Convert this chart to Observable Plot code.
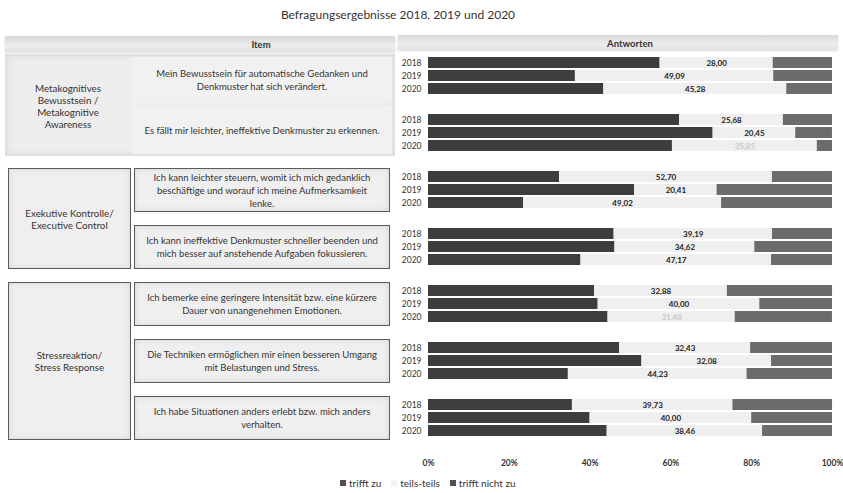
<!DOCTYPE html>
<html>
<head>
<meta charset="utf-8">
<script src="https://cdn.jsdelivr.net/npm/d3@7"></script>
<script src="https://cdn.jsdelivr.net/npm/@observablehq/plot@0.6"></script>
<style>
  html, body { margin: 0; padding: 0; background: #fff; }
  #wrap { position: relative; width: 843px; height: 493px; overflow: hidden;
          font-family: Lato, "Open Sans", sans-serif; color: #333; }
  #title { position: absolute; left: 0; top: 7px; width: 796px; text-align: center;
           font-size: 12px; color: #333; }
  .band { position: absolute; background: linear-gradient(#d9d9d9, #ececec 60%, #e2e2e2);
          box-shadow: 0 1px 2px rgba(0,0,0,0.15); }
  .hdr { position: absolute; font-weight: bold; font-size: 9.5px; color: #333;
         transform: translate(-50%, -50%); white-space: nowrap; }
  .cell { position: absolute; box-sizing: border-box; display: flex; align-items: center;
          justify-content: center; text-align: center; white-space: pre-line;
          font-size: 9.5px; line-height: 13px; color: #333; }
  .boxed { border: 1px solid #5a5a5a; background: #efefef;
           box-shadow: inset 0 0 6px rgba(0,0,0,0.10); }
  .soft { background: #ededed; }
  .catText { font-size: 9.8px; line-height: 12px; }
  #legend { position: absolute; left: 340px; top: 477px; display: flex; font-size: 10px; color: #333; }
  #legend span.item { display: flex; align-items: center; margin-right: 10px; }
  #legend i { display: inline-block; width: 6px; height: 6px; margin-right: 3px; }
  #chart { position: absolute; left: 0; top: 28px; }
</style>
</head>
<body>
<div id="wrap">
  <div id="title"></div>
</div>
<script>
// Survey results: share of answers per item and survey year
const title = "Befragungsergebnisse 2018, 2019 und 2020";
const years = ["2018", "2019", "2020"];
const responses = ["trifft zu", "teils-teils", "trifft nicht zu"];
const responseColors = ["#3d3d3d", "#efefef", "#6b6b6b"];
const xTicks = [0, 20, 40, 60, 80, 100];

const categories = [
  "Metakognitives\nBewusstsein /\nMetakognitive\nAwareness",
  "Exekutive Kontrolle/\nExecutive Control",
  "Stressreaktion/\nStress Response"
];
const items = [
  "Mein Bewusstsein für automatische Gedanken und\nDenkmuster hat sich verändert.",
  "Es fällt mir leichter, ineffektive Denkmuster zu erkennen.",
  "Ich kann leichter steuern, womit ich mich gedanklich\nbeschäftige und worauf ich meine Aufmerksamkeit\nlenke.",
  "Ich kann ineffektive Denkmuster schneller beenden und\nmich besser auf anstehende Aufgaben fokussieren.",
  "Ich bemerke eine geringere Intensität bzw. eine kürzere\nDauer von unangenehmen Emotionen.",
  "Die Techniken ermöglichen mir einen besseren Umgang\nmit Belastungen und Stress.",
  "Ich habe Situationen anders erlebt bzw. mich anders\nverhalten."
];
const itemCategory = [0, 0, 1, 1, 2, 2, 2];

// Percentages per item (rows) and year 2018, 2019, 2020 (columns)
const trifftZu = [
  [57.33, 36.36, 43.40],
  [62.16, 70.45, 60.38],
  [32.43, 51.02, 23.53],
  [45.95, 46.15, 37.74],
  [41.10, 42.00, 44.44],
  [47.30, 52.83, 34.62],
  [35.62, 40.00, 44.23]
];
const teilsTeils = [
  [28.00, 49.09, 45.28],
  [25.68, 20.45, 35.85],
  [52.70, 20.41, 49.02],
  [39.19, 34.62, 47.17],
  [32.88, 40.00, 31.48],
  [32.43, 32.08, 44.23],
  [39.73, 40.00, 38.46]
];
const trifftNichtZu = [
  [14.67, 14.55, 11.32],
  [12.16,  9.09,  3.77],
  [14.86, 28.57, 27.45],
  [14.86, 19.23, 15.09],
  [26.03, 18.00, 24.07],
  [20.27, 15.09, 21.15],
  [24.66, 20.00, 17.31]
];
// value labels that are printed only faintly (item index, year)
const faintLabels = [[1, "2020"], [4, "2020"]];

const series = [trifftZu, teilsTeils, trifftNichtZu];
const rows = [];
const labels = [];
items.forEach((_, i) => years.forEach((year, j) => {
  series.forEach((s, k) => rows.push({item: i, year, response: responses[k], value: s[i][j]}));
  labels.push({
    item: i, year, value: teilsTeils[i][j],
    mid: trifftZu[i][j] + teilsTeils[i][j] / 2,
    faint: faintLabels.some(([fi, fy]) => fi === i && fy === year)
  });
}));
const fmt = v => v.toFixed(2).replace(".", ",");

const wrap = document.getElementById("wrap");
document.getElementById("title").textContent = title;

const svgTop = 28;
const chart = Plot.plot({
  width: 843,
  height: 447,
  marginLeft: 428,
  marginRight: 11,
  marginTop: 25,
  marginBottom: 35,
  style: {fontFamily: "Lato, 'Open Sans', sans-serif", background: "transparent", color: "#333"},
  x: {domain: [0, 100], axis: null},
  y: {domain: years, paddingInner: 0.14, paddingOuter: 0.04, axis: null},
  fy: {domain: d3.range(items.length), paddingInner: 0.28, paddingOuter: 0, axis: null},
  color: {domain: responses, range: responseColors},
  marks: [
    Plot.barX(rows, Plot.stackX({x: "value", y: "year", fy: "item", fill: "response", order: responses})),
    Plot.text(labels.filter(d => !d.faint), {
      x: "mid", y: "year", fy: "item", text: d => fmt(d.value),
      fill: "#222", fontWeight: "bold", fontSize: 8
    }),
    Plot.text(labels.filter(d => d.faint), {
      x: "mid", y: "year", fy: "item", text: d => fmt(d.value),
      fill: "#c9c9c9", fontWeight: "bold", fontSize: 8
    }),
    Plot.axisY({tickSize: 0, tickPadding: 7, fontSize: 8.5, fill: "#333", label: null}),
    Plot.axisX({ticks: xTicks, tickFormat: d => d + "%", tickSize: 0, tickPadding: 21,
                fontSize: 8.5, fontWeight: "bold", fill: "#333", label: null})
  ]
});
chart.id = "chart";

// header bands
function add(cls, style, text) {
  const el = document.createElement("div");
  el.className = cls;
  Object.assign(el.style, style);
  if (text != null) el.textContent = text;
  wrap.appendChild(el);
  return el;
}
add("band", {left: "5px", top: "36px", width: "390px", height: "16px"});
add("band", {left: "398px", top: "35px", width: "440px", height: "15px"});
add("hdr", {left: "261px", top: "44px"}, "Item");
add("hdr", {left: "630px", top: "43px"}, "Antworten");

wrap.appendChild(chart);

// table cells aligned to the facet bands of the chart
const fyScale = chart.scale("fy");
const bw = fyScale.bandwidth;
const bandTop = i => fyScale.apply(i) + svgTop;

categories.forEach((cat, c) => {
  const idx = d3.range(items.length).filter(i => itemCategory[i] === c);
  const t0 = bandTop(idx[0]) - 1;
  const t1 = bandTop(idx[idx.length - 1]) + bw + 2;
  if (c === 0) {
    add("cell soft", {left: "5px", top: t0 + "px", width: "390px", height: (t1 - t0 + 1) + "px",
                      boxShadow: "inset 0 0 8px rgba(0,0,0,0.12)"});
    add("cell catText", {left: "5px", top: (t0 + 1) + "px", width: "126px", height: (t1 - t0) + "px"}, cat);
    idx.forEach((i, n) => {
      const a = n === 0 ? t0 + 3 : (bandTop(idx[n - 1]) + bw + bandTop(i)) / 2 + 2;
      const b = n === idx.length - 1 ? t1 - 1 : (bandTop(i) + bw + bandTop(idx[n + 1])) / 2 - 1;
      add("cell", {left: "132px", top: a + "px", width: "260px", height: (b - a) + "px",
                   background: "#f1f1f1"}, items[i]);
    });
  } else {
    add("cell boxed catText", {left: "8px", top: t0 + "px", width: "123px", height: (t1 - t0) + "px"}, cat);
    idx.forEach(i => {
      add("cell boxed", {left: "134px", top: (bandTop(i) - 1) + "px", width: "256px", height: (bw + 3) + "px"}, items[i]);
    });
  }
});

// legend
const legend = add("", {}, null);
legend.id = "legend";
responses.forEach((r, k) => {
  const s = document.createElement("span");
  s.className = "item";
  const sw = document.createElement("i");
  sw.style.background = k === 1 ? "#f4f4f4" : "#505050";
  s.appendChild(sw);
  s.appendChild(document.createTextNode(r));
  legend.appendChild(s);
});
</script>
</body>
</html>
